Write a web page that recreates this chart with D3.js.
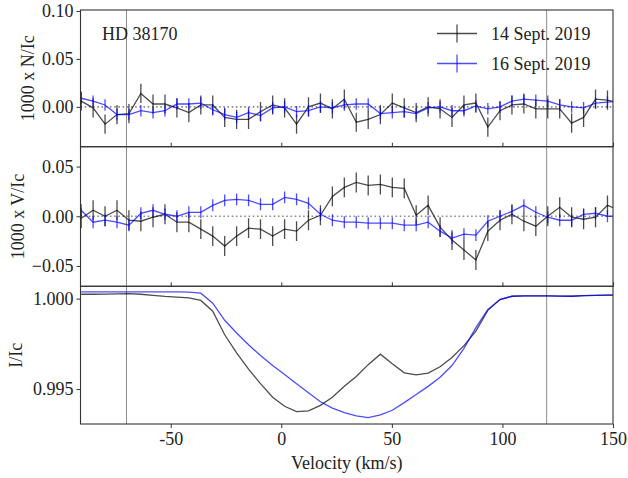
<!DOCTYPE html>
<html>
<head>
<meta charset="utf-8">
<script src="https://cdn.jsdelivr.net/npm/d3@7"></script>
<style>
  body { margin: 0; background: #fff; }
  svg { display: block; font-family: 'Liberation Serif', 'Times New Roman', serif; }
</style>
</head>
<body>
<svg id="chart" width="628" height="478"></svg>
<script>
// velocity grid (km/s), last point lies just past the right edge
const velocity = [-90.5, -85.1, -79.7, -74.3, -68.9, -63.5, -58.0, -52.6, -47.2, -41.8,
  -36.4, -31.0, -25.6, -20.2, -14.8, -9.4, -3.9, 1.5, 6.9, 12.3,
  17.7, 23.1, 28.5, 33.9, 39.3, 44.8, 50.2, 55.6, 61.0, 66.4,
  71.8, 77.2, 82.6, 88.0, 93.4, 98.9, 104.3, 109.7, 115.1, 120.5,
  125.9, 131.3, 136.7, 142.1, 147.5, 152.9]

// 14 Sept. 2019
const null14 = [0.006, -0.001, -0.018, -0.008, -0.007, 0.014, 0.003, 0.003, -0.001, -0.006,
  0.002, 0.002, -0.011, -0.013, -0.013, -0.005, 0.002, -0.001, -0.018, 0.000,
  0.004, -0.002, 0.008, -0.016, -0.013, -0.008, 0.004, -0.001, -0.006, 0.000,
  -0.002, -0.011, 0.002, 0.004, -0.021, -0.004, 0.002, 0.003, -0.002, -0.002,
  -0.002, -0.017, -0.011, 0.008, 0.007, 0.004]
const stokesV14 = [-0.002, 0.006, 0.000, 0.006, -0.004, -0.005, -0.001, 0.002, -0.006, -0.006,
  -0.013, -0.020, -0.030, -0.020, -0.012, -0.013, -0.020, -0.013, -0.015, -0.004,
  0.001, 0.020, 0.029, 0.034, 0.031, 0.032, 0.029, 0.028, 0.001, 0.011,
  -0.011, -0.024, -0.034, -0.044, -0.015, -0.004, 0.002, -0.005, -0.010, 0.000,
  0.009, -0.001, -0.003, -0.001, 0.011, 0.006]
const intensity14 = [1.00024, 1.00024, 1.00025, 1.00026, 1.00027, 1.00024, 1.00018, 1.00012, 1.00008, 1.00004,
  0.99990, 0.99930, 0.99800, 0.99700, 0.99610, 0.99530, 0.99455, 0.99405, 0.99375, 0.99380,
  0.99410, 0.99455, 0.99515, 0.99570, 0.99635, 0.99693, 0.99640, 0.99590, 0.99578, 0.99588,
  0.99623, 0.99675, 0.99740, 0.99820, 0.99935, 0.99995, 1.00013, 1.00015, 1.00015, 1.00015,
  1.00014, 1.00013, 1.00016, 1.00018, 1.00019, 1.00020]
const err14 = 0.010

// 16 Sept. 2019
const null16 = [0.009, 0.006, 0.002, -0.008, -0.008, -0.004, -0.006, -0.004, 0.003, 0.003,
  0.004, -0.003, -0.008, -0.011, -0.006, -0.009, -0.001, 0.000, -0.005, -0.004,
  0.000, -0.001, 0.002, 0.003, 0.003, -0.007, -0.006, -0.005, -0.007, -0.001,
  0.000, -0.004, -0.004, 0.001, -0.002, 0.000, 0.006, 0.008, 0.007, 0.006,
  0.002, 0.000, -0.001, 0.004, 0.005, 0.006]
const stokesV16 = [0.006, -0.006, -0.004, -0.006, -0.009, 0.003, 0.006, 0.002, 0.000, 0.004,
  0.004, 0.011, 0.016, 0.017, 0.016, 0.012, 0.012, 0.019, 0.017, 0.013,
  0.002, -0.004, -0.006, -0.006, -0.007, -0.007, -0.007, -0.009, -0.009, -0.006,
  -0.015, -0.022, -0.018, -0.019, -0.005, 0.000, 0.005, 0.011, 0.004, -0.001,
  -0.004, -0.004, 0.002, 0.003, 0.000, 0.000]
const intensity16 = [1.00037, 1.00037, 1.00037, 1.00037, 1.00037, 1.00037, 1.00037, 1.00037, 1.00037, 1.00036,
  1.00030, 0.99975, 0.99880, 0.99810, 0.99745, 0.99685, 0.99630, 0.99580, 0.99530, 0.99480,
  0.99430, 0.99395, 0.99370, 0.99352, 0.99342, 0.99357, 0.99383, 0.99425, 0.99470, 0.99515,
  0.99565, 0.99630, 0.99725, 0.99840, 0.99940, 0.99995, 1.00013, 1.00015, 1.00015, 1.00015,
  1.00014, 1.00013, 1.00016, 1.00018, 1.00019, 1.00020]
const err16 = 0.006

const legendLabels = ['14 Sept. 2019', '16 Sept. 2019']
const markerVelocities = [-70, 120]
const xTicks = [-50, 0, 50, 100, 150]

const BLACK = 'rgba(0,0,0,0.7)'
const BLUE = 'rgba(0,0,255,0.7)'
const FONT = 18

const svg = d3.select('#chart')
const LEFT = 80.5
const RIGHT = 613

const x = d3.scaleLinear().domain([-90.8, 150]).range([LEFT, RIGHT])

const panels = [
  { key: 'N', top: 10, bottom: 146.7, domain: [-0.0415, 0.101], ticks: [0, 0.05, 0.10], fmt: '.2f',
    label: '1000 x N/Ic', labelX: 27.5, series: [[null14, err14, BLACK], [null16, err16, BLUE]], zero: true },
  { key: 'V', top: 146.7, bottom: 286.3, domain: [-0.0705, 0.070], ticks: [-0.05, 0, 0.05], fmt: '.2f',
    label: '1000 x V/Ic', labelX: 17.5, series: [[stokesV14, err14, BLACK], [stokesV16, err16, BLUE]], zero: true },
  { key: 'I', top: 286.3, bottom: 424, domain: [0.99307, 1.00068], ticks: [0.995, 1.000], fmt: '.3f',
    label: 'I/Ic', labelX: 16, series: [[intensity14, null, BLACK], [intensity16, null, BLUE]], zero: false }
]

panels.forEach((p, pi) => {
  const y = d3.scaleLinear().domain(p.domain).range([p.bottom, p.top])
  const g = svg.append('g')

  svg.append('clipPath').attr('id', 'clip' + p.key)
    .append('rect')
    .attr('x', LEFT).attr('y', p.top)
    .attr('width', RIGHT - LEFT).attr('height', p.bottom - p.top)

  const plot = g.append('g').attr('clip-path', `url(#clip${p.key})`)

  // vertical reference lines
  markerVelocities.forEach(v => {
    plot.append('line')
      .attr('x1', x(v)).attr('x2', x(v))
      .attr('y1', p.top).attr('y2', p.bottom)
      .attr('stroke', '#8c8c8c').attr('stroke-width', 1)
  })

  if (p.zero) {
    plot.append('line')
      .attr('x1', LEFT).attr('x2', RIGHT)
      .attr('y1', y(0)).attr('y2', y(0))
      .attr('stroke', '#8a8a8a').attr('stroke-width', 1.6)
      .attr('stroke-dasharray', '1.6,2.6')
  }

  const line = d3.line()
    .x((d, i) => x(velocity[i]))
    .y(d => y(d))

  p.series.forEach(([vals, err, color]) => {
    plot.append('path')
      .attr('d', line(vals))
      .attr('fill', 'none')
      .attr('stroke', color)
      .attr('stroke-width', 1.3)
    if (err !== null) {
      plot.selectAll(null)
        .data(vals)
        .enter().append('line')
        .attr('x1', (d, i) => x(velocity[i]))
        .attr('x2', (d, i) => x(velocity[i]))
        .attr('y1', d => y(d - err))
        .attr('y2', d => y(d + err))
        .attr('stroke', color)
        .attr('stroke-width', 1.3)
    }
  })

  // y axis
  const yAxis = d3.axisLeft(y).tickValues(p.ticks).tickFormat(d3.format(p.fmt)).tickSize(4).tickPadding(3)
  const ya = g.append('g').attr('transform', `translate(${LEFT},0)`).call(yAxis)
  ya.select('.domain').remove()
  ya.selectAll('line').attr('stroke', '#333')
  ya.selectAll('text').attr('font-size', FONT).attr('fill', '#222').attr('font-family', 'Liberation Serif')

  // x ticks
  const isBottom = pi === panels.length - 1
  const xAxis = isBottom
    ? d3.axisBottom(x).tickValues(xTicks).tickFormat(d => String(d)).tickSize(4).tickPadding(4)
    : d3.axisBottom(x).tickValues(xTicks).tickFormat('').tickSize(-4)
  const xa = g.append('g').attr('transform', `translate(0,${p.bottom})`).call(xAxis)
  xa.select('.domain').remove()
  xa.selectAll('line').attr('stroke', '#333')
  xa.selectAll('text').attr('font-size', FONT).attr('fill', '#222').attr('font-family', 'Liberation Serif')

  // frame
  g.append('rect')
    .attr('x', LEFT).attr('y', p.top)
    .attr('width', RIGHT - LEFT).attr('height', p.bottom - p.top)
    .attr('fill', 'none').attr('stroke', '#333').attr('stroke-width', 1.1)

  g.append('text')
    .attr('transform', `translate(${p.labelX},${(p.top + p.bottom) / 2}) rotate(-90)`)
    .attr('text-anchor', 'middle')
    .attr('dy', '0.35em')
    .attr('font-size', FONT)
    .attr('fill', '#222')
    .text(p.label)
})

svg.append('text')
  .attr('x', (LEFT + RIGHT) / 2)
  .attr('y', 469)
  .attr('text-anchor', 'middle')
  .attr('font-size', FONT)
  .attr('fill', '#222')
  .text('Velocity (km/s)')

svg.append('text')
  .attr('x', 102)
  .attr('y', 39.5)
  .attr('font-size', FONT)
  .attr('fill', '#222')
  .text('HD 38170')

// legend
const legend = svg.append('g')
legendLabels.forEach((lab, i) => {
  const cy = 33.5 + i * 30
  const color = i === 0 ? BLACK : BLUE
  legend.append('line')
    .attr('x1', 437).attr('x2', 477).attr('y1', cy).attr('y2', cy)
    .attr('stroke', color).attr('stroke-width', 1.3)
  legend.append('line')
    .attr('x1', 457).attr('x2', 457).attr('y1', cy - 9).attr('y2', cy + 9)
    .attr('stroke', color).attr('stroke-width', 1.3)
  legend.append('text')
    .attr('x', 491).attr('y', cy + 6.5)
    .attr('font-size', FONT)
    .attr('fill', '#222')
    .text(lab)
})
</script>
</body>
</html>
